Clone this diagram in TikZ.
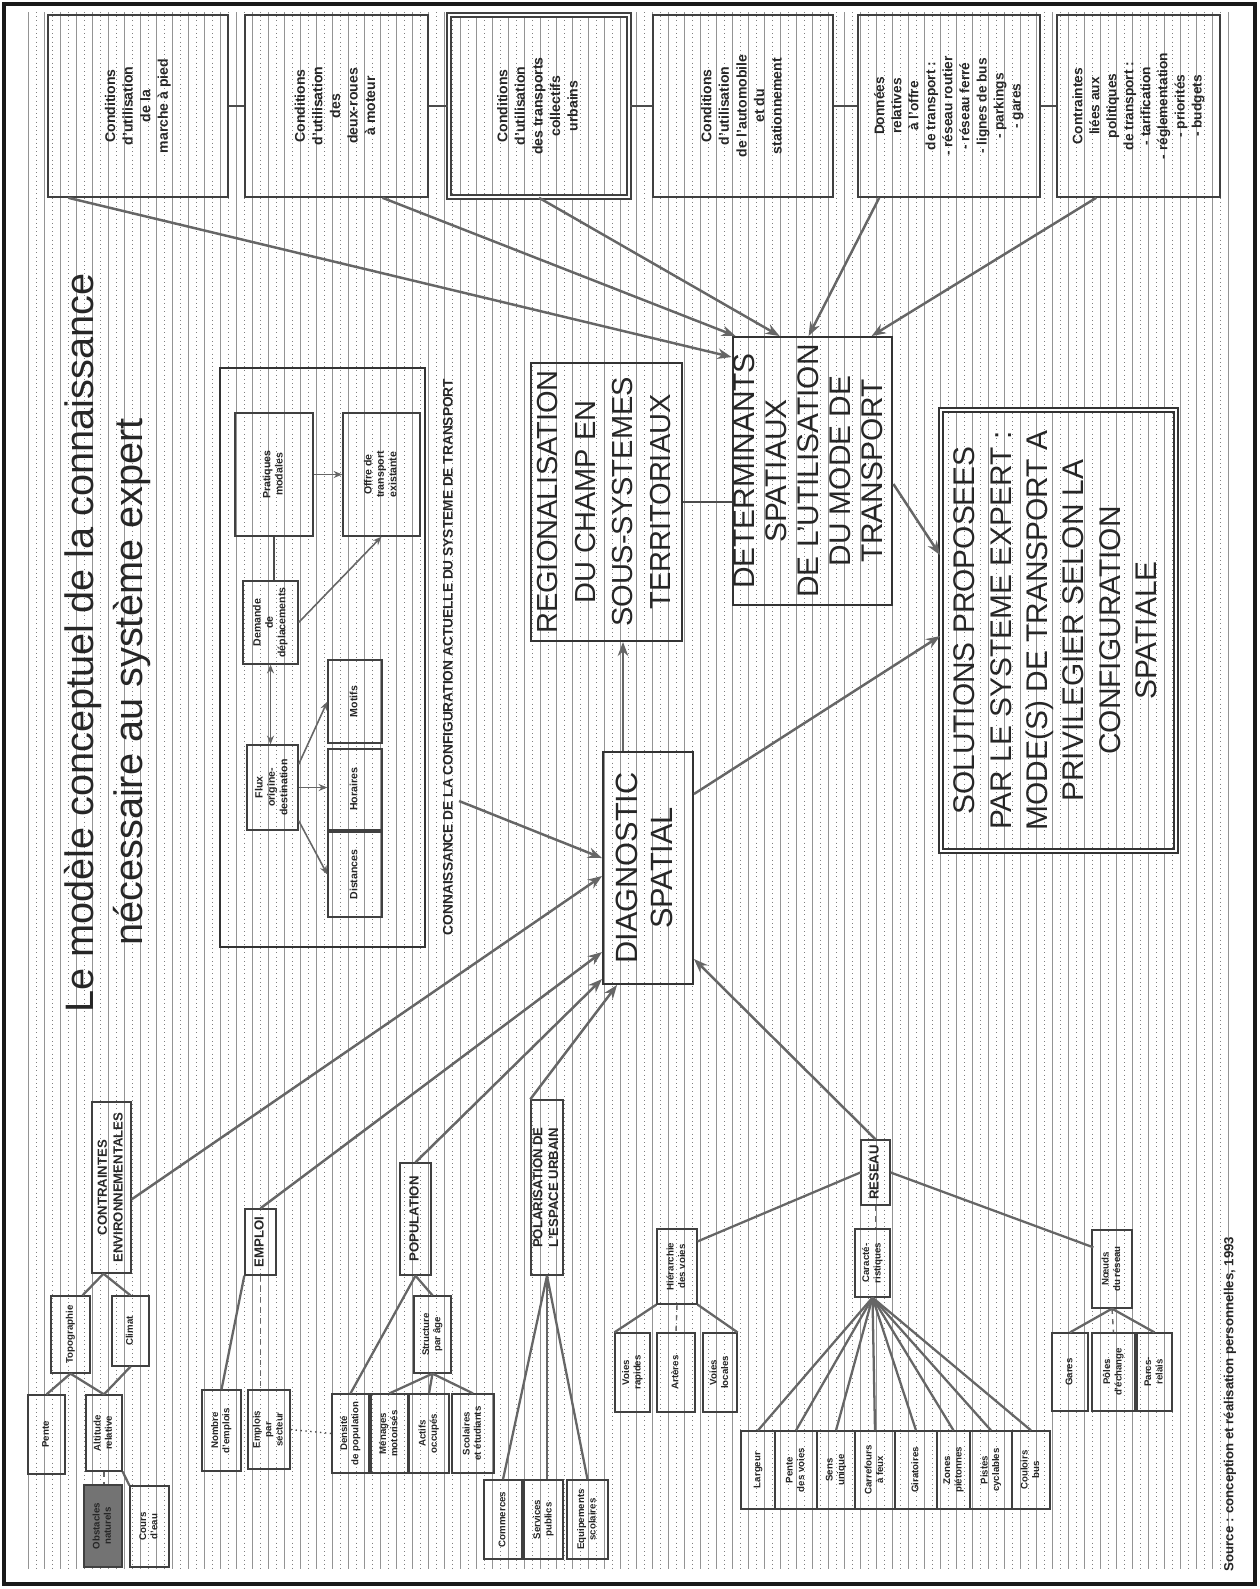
\documentclass[tikz,border=0pt]{standalone}
\usepackage{fontspec}
\setmainfont{Liberation Sans}
\usepackage{graphicx}
\usetikzlibrary{arrows.meta}
% text set bottom-to-top, several centred lines
\newcommand\rt[1]{\rotatebox{90}{\begin{tabular}{@{}c@{}}#1\end{tabular}}}
\begin{document}
\begin{tikzpicture}[x=0.02cm,y=-0.02cm,
  wh/.style 2 args={minimum width=#1*0.02cm, minimum height=#2*0.02cm},
  anybox/.style={rectangle, inner sep=0pt, text=black!85},
  bigbox/.style={anybox, draw=black!80, line width=1.1pt},
  topbox/.style={anybox, draw=black!75, line width=0.9pt, font=\fontsize{8}{10}\selectfont\bfseries},
  cat/.style={anybox, draw=black!75, line width=0.8pt, font=\fontsize{7.5}{9}\selectfont\bfseries},
  sbox/.style={anybox, draw=black!75, line width=0.7pt, font=\fontsize{5.5}{6.5}\selectfont\bfseries},
  ibox/.style={anybox, draw=black!75, line width=0.7pt, font=\fontsize{6}{7}\selectfont\bfseries},
  arr/.style={draw=black!60, line width=1.4pt, -{Stealth[length=8pt,width=6pt]}},
  iarr/.style={draw=black!60, line width=0.9pt, -{Stealth[length=5pt,width=4pt]}},
  tline/.style={draw=black!60, line width=1.3pt},
  link/.style={draw=black!70, line width=0.9pt}]

\useasboundingbox (0,0) rectangle (1260,1589);

% ruled background
\foreach \x in {28,44,...,1236}
  \draw[black!42, line width=0.4pt] (\x,12) -- (\x,1569);
\foreach \x in {36,52,...,1228}
  \draw[black!50, line width=0.4pt, dotted] (\x,12) -- (\x,1569);

% page frame
\draw[black!90, line width=1.8pt] (4,4) rectangle (1255,1584);

% title
\node[text=black!85, font=\fontsize{22.6}{26}\selectfont] (title1) at (83,643)
  {\rotatebox{90}{Le modèle conceptuel de la connaissance}};
\node[text=black!85, font=\fontsize{22.6}{26}\selectfont] (title2) at (132,682)
  {\rotatebox{90}{nécessaire au système expert}};

% upper row of condition boxes
\node[topbox, wh={180}{182}] (B1) at (138,106) {\rt{Conditions\\d'utilisation\\de la\\marche à pied}};
\node[topbox, wh={183}{182}] (B2) at (336.5,106) {\rt{Conditions\\d'utilisation\\des\\deux-roues\\à moteur}};
\node[topbox, wh={180}{182}, double, double distance=1.2pt] (B3) at (539,106) {\rt{Conditions\\d'utilisation\\des transports\\collectifs\\urbains}};
\node[topbox, wh={180}{182}] (B4) at (743,106) {\rt{Conditions\\d'utilisation\\de l'automobile\\et du\\stationnement}};
\node[topbox, wh={182}{182}, font=\fontsize{7.8}{9.7}\selectfont\bfseries] (B5) at (949,106) {\rt{Données\\relatives\\à l'offre\\de transport :\\- réseau routier\\- réseau ferré\\- lignes de bus\\- parkings\\- gares}};
\node[topbox, wh={163}{182}, font=\fontsize{7.8}{9.7}\selectfont\bfseries] (B6) at (1138.5,106) {\rt{Contraintes\\liées aux\\politiques\\de transport :\\- tarification\\- réglementation\\- priorités\\- budgets}};

\draw[link] (B1.east) -- (B2.west);
\draw[link] (B2.east) -- (B3.west);
\draw[link] (B3.east) -- (B4.west);
\draw[link] (B4.east) -- (B5.west);
\draw[link] (B5.east) -- (B6.west);

% central chain
\node[bigbox, wh={159}{268}, font=\fontsize{17}{18.2}\selectfont] (det) at (812.5,471)
  {\rt{DETERMINANTS\\SPATIAUX\\DE L'UTILISATION\\DU MODE DE\\TRANSPORT}};
\node[bigbox, wh={147}{278}, font=\fontsize{16.5}{21.4}\selectfont] (reg) at (606.5,502)
  {\rt{REGIONALISATION\\DU CHAMP EN\\SOUS-SYSTEMES\\TERRITORIAUX}};
\node[bigbox, wh={90}{232}, font=\fontsize{17.5}{20}\selectfont] (diag) at (648,868)
  {\rt{DIAGNOSTIC\\SPATIAL}};
\node[bigbox, wh={235}{441}, double, double distance=1.5pt, font=\fontsize{17}{20.7}\selectfont] (sol) at (1058.5,630.5)
  {\rt{SOLUTIONS PROPOSEES\\PAR LE SYSTEME EXPERT :\\MODE(S) DE TRANSPORT A\\PRIVILEGIER SELON LA\\CONFIGURATION\\SPATIALE}};

\draw[link, line width=1pt] (reg.east) -- (reg.east -| det.west);
\draw[arr] ([shift={(-25,0)}]diag.north) -- ([shift={(-25,0)}]diag.north |- reg.south);
\draw[arr] ([shift={(0,148)}]det.north east) -- ([shift={(0,146)}]sol.north west);
\draw[arr] ([shift={(0,-74)}]diag.east) -- ([shift={(0,227)}]sol.north west);

% condition boxes feeding the determinants
\draw[arr] ([shift={(21,0)}]B1.south west) -- ([shift={(0,21)}]det.north west);
\draw[arr] ([shift={(46,0)}]B2.south) -- ([shift={(4,0)}]det.north west);
\draw[arr] (B3.south) -- ([shift={(48,0)}]det.north west);
\draw[arr] ([shift={(22,0)}]B5.south west) -- ([shift={(77,0)}]det.north west);
\draw[arr] ([shift={(40,0)}]B6.south west) -- ([shift={(140,0)}]det.north west);

% transport system block
\node[anybox, draw=black!80, line width=1.1pt, wh={205}{579}] (org) at (322.5,657.5) {};
\node[text=black!85, font=\fontsize{7.8}{9}\selectfont\bfseries] (orglab) at (448,657)
  {\rotatebox{90}{CONNAISSANCE DE LA CONFIGURATION ACTUELLE DU SYSTEME DE TRANSPORT}};

\node[ibox, wh={78}{123}] (ia) at (274,474.5) {\rt{Pratiques\\modales}};
\node[ibox, wh={77}{123}] (ib) at (381.5,474.5) {\rt{Offre de\\transport\\existante}};
\node[ibox, wh={55}{83}] (ic) at (270.5,622.5) {\rt{Demande\\de\\déplacements}};
\node[ibox, wh={51}{85}] (id) at (272.5,787.5) {\rt{Flux\\origine-\\destination}};
\node[ibox, wh={54}{83}] (ie) at (355,701.5) {\rt{Motifs}};
\node[ibox, wh={54}{81}] (if) at (355,789.5) {\rt{Horaires}};
\node[ibox, wh={54}{85}] (ig) at (355,874.5) {\rt{Distances}};

\draw[iarr] (ia.east) -- (ib.west);
\draw[link] (ia.south) -- (ia.south |- ic.north);
\draw[iarr] (ic.east) -- (ib.south);
\draw[iarr, {Stealth[length=5pt,width=4pt]}-{Stealth[length=5pt,width=4pt]}] (ic.south) -- (ic.south |- id.north);
\draw[iarr] ([shift={(0,20)}]id.north east) -- (ie.west);
\draw[iarr] (id.east) -- (id.east -| if.west);
\draw[iarr] ([shift={(0,-10)}]id.south east) -- (ig.west);

\draw[arr] ([shift={(0,144)}]orglab.east) -- ([shift={(0,107)}]diag.north west);

% environmental constraints
\node[cat, wh={39}{171}] (n1) at (111.5,1187.5) {\rt{CONTRAINTES\\ENVIRONNEMENTALES}};
\node[sbox, wh={39}{77}] (n1a) at (70.5,1334.5) {\rt{Topographie}};
\node[sbox, wh={37}{70}] (n1b) at (130.5,1331) {\rt{Climat}};
\node[sbox, wh={37}{79}] (n1c) at (46.5,1434.5) {\rt{Pente}};
\node[sbox, wh={36}{76}] (n1d) at (104,1433) {\rt{Altitude\\relative}};
\node[sbox, wh={38}{82}, fill=black!55] (n1e) at (103,1526) {\rt{Obstacles\\naturels}};
\node[sbox, wh={39}{81}] (n1f) at (149.5,1526.5) {\rt{Cours\\d'eau}};

\draw[tline] ([shift={(-8,0)}]n1.south) -- ([shift={(12,0)}]n1a.north);
\draw[tline] ([shift={(-8,0)}]n1.south) -- (n1b.north);
\draw[tline] (n1a.south) -- (n1c.north);
\draw[tline] (n1a.south) -- (n1d.north);
\draw[tline] (n1b.south) -- (n1d.north);
\draw[tline, dashed, line width=0.8pt] (n1d.south) -- (n1d.south |- n1e.north);
\draw[tline] (n1d.south east) -- (n1f.north west);

% employment
\node[cat, wh={31}{66}] (n2) at (260.5,1242) {\rt{EMPLOI}};
\node[sbox, wh={39}{81}] (n2a) at (221.5,1430.5) {\rt{Nombre\\d'emplois}};
\node[sbox, wh={42}{79}] (n2b) at (269,1429.5) {\rt{Emplois\\par\\secteur}};
\draw[tline] (n2.south west) -- (n2a.north);
\draw[tline, dashed, line width=0.8pt] (n2.south) -- (n2.south |- n2b.north);

% population
\node[cat, wh={31}{112}] (n3) at (415.5,1219) {\rt{POPULATION}};
\node[sbox, wh={37}{77}] (n3a) at (432.5,1334.5) {\rt{Structure\\par âge}};
\node[sbox, wh={37}{79}] (r1) at (350.5,1433.5) {\rt{Densité\\de population}};
\node[sbox, wh={37}{79}] (r2) at (389.5,1433.5) {\rt{Ménages\\motorisés}};
\node[sbox, wh={40}{79}] (r3) at (429,1433.5) {\rt{Actifs\\occupés}};
\node[sbox, wh={42}{79}] (r4) at (473,1433.5) {\rt{Scolaires\\et étudiants}};
\draw[tline] (n3.south) -- (n3a.north);
\draw[tline] (n3.south) -- (r1.north);
\draw[tline] (n3a.south) -- (r2.north);
\draw[tline] (n3a.south) -- (r3.north);
\draw[tline] (n3a.south) -- (r4.north);
\draw[black!70, line width=0.8pt, dotted] (n2b.east) -- (r1.west);

% polarisation
\node[cat, wh={32}{175}] (n4) at (547,1187.5) {\rt{POLARISATION DE\\L'ESPACE URBAIN}};
\node[sbox, wh={38}{79}] (k1) at (503,1519.5) {\rt{Commerces}};
\node[sbox, wh={39}{79}] (k2) at (543.5,1519.5) {\rt{Services\\publics}};
\node[sbox, wh={41}{79}] (k3) at (587.5,1519.5) {\rt{Equipements\\scolaires}};
\draw[tline] (n4.south) -- (k1.north);
\draw[tline] (n4.south) -- (n4.south |- k2.north);
\draw[tline] (n4.south) -- (k3.north);

% network
\node[cat, wh={29}{65}] (n5) at (875.5,1172.5) {\rt{RESEAU}};
\node[sbox, wh={40}{75}] (n5a) at (677,1266.5) {\rt{Hiérarchie\\des voies}};
\node[sbox, wh={35}{68}] (n5b) at (872.5,1263) {\rt{Caracté-\\ristiques}};
\node[sbox, wh={40}{78}] (n5c) at (1112,1269) {\rt{Nœuds\\du réseau}};
\draw[tline] (n5.west) -- ([shift={(0,13)}]n5a.north east);
\draw[tline, dashed, line width=0.8pt] (n5.south) -- (n5.south |- n5b.north);
\draw[tline] (n5.east) -- ([shift={(2,18)}]n5c.north west);

\node[sbox, wh={35}{79}] (a1) at (632.5,1372.5) {\rt{Voies\\rapides}};
\node[sbox, wh={38}{79}] (a2) at (676,1372.5) {\rt{Artères}};
\node[sbox, wh={34}{79}] (a3) at (720,1372.5) {\rt{Voies\\locales}};
\draw[tline] (n5a.south west) -- (a1.north west);
\draw[tline, dashed, line width=0.8pt] (n5a.south) -- (a2.north);
\draw[tline] (n5a.south east) -- (a3.north east);

\node[sbox, wh={34}{78}] (b1) at (758,1470) {\rt{Largeur}};
\node[sbox, wh={42}{78}] (b2) at (796,1470) {\rt{Pente\\des voies}};
\node[sbox, wh={38}{78}] (b3) at (836,1470) {\rt{Sens\\unique}};
\node[sbox, wh={40}{78}] (b4) at (875,1470) {\rt{Carrefours\\à feux}};
\node[sbox, wh={42}{78}] (b5) at (916,1470) {\rt{Giratoires}};
\node[sbox, wh={33}{78}] (b6) at (953.5,1470) {\rt{Zones\\piétonnes}};
\node[sbox, wh={42}{78}] (b7) at (991,1470) {\rt{Pistes\\cyclables}};
\node[sbox, wh={38}{78}] (b8) at (1031,1470) {\rt{Couloirs\\bus}};
\foreach \b in {b1,b2,b3,b4,b5,b6,b7,b8}
  \draw[tline] (n5b.south) -- (\b.north);

\node[sbox, wh={36}{78}] (c1) at (1070,1372) {\rt{Gares}};
\node[sbox, wh={43}{78}] (c2) at (1113.5,1372) {\rt{Pôles\\d'échange}};
\node[sbox, wh={35}{78}] (c3) at (1154.5,1372) {\rt{Parcs-\\relais}};
\draw[tline] (n5c.south) -- (c1.north);
\draw[tline, dashed, line width=0.8pt] (n5c.south) -- (c2.north);
\draw[tline] (n5c.south) -- (c3.north);

% inputs to the spatial diagnosis
\draw[arr] ([shift={(0,98)}]n1.north east) -- ([shift={(0,125)}]diag.north west);
\draw[arr] (n2.north) -- ([shift={(0,201)}]diag.north west);
\draw[arr] (n3.north) -- ([shift={(0,228)}]diag.north west);
\draw[arr] (n4.north west) -- ([shift={(15,0)}]diag.south west);
\draw[arr] (n5.north) -- ([shift={(0,91)}]diag.east);

% source line
\node[text=black!85, font=\fontsize{7.5}{9}\selectfont\bfseries] (src) at (1230,1404)
  {\rotatebox{90}{Source : conception et réalisation personnelles, 1993}};

\end{tikzpicture}
\end{document}
